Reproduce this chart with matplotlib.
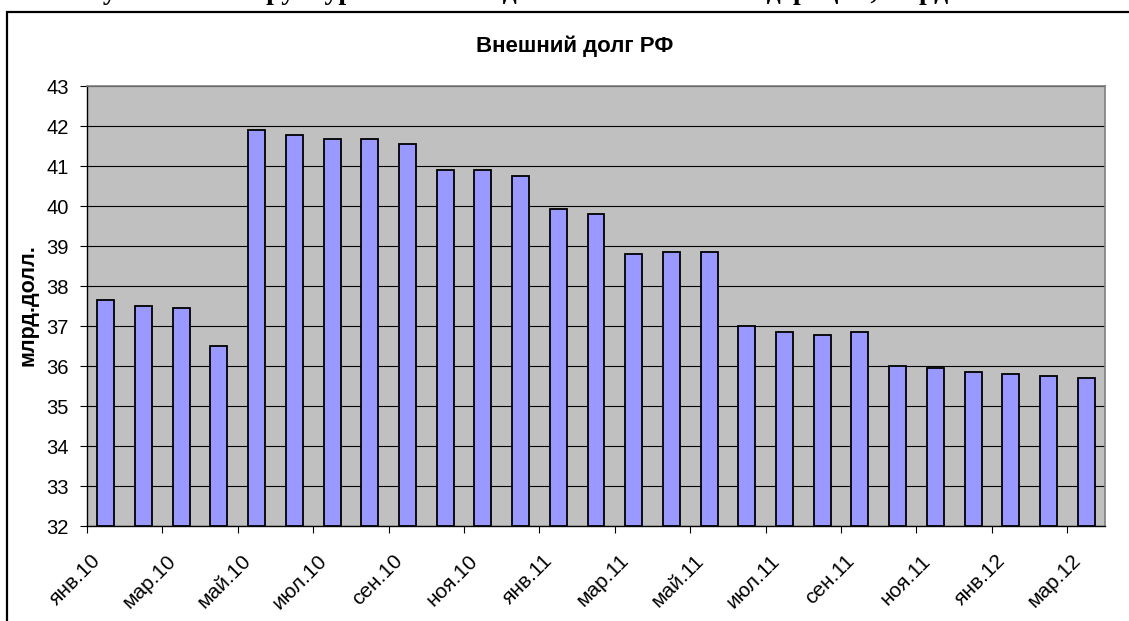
import matplotlib
matplotlib.use("Agg")
import matplotlib.pyplot as plt
import matplotlib.transforms as mtransforms
from matplotlib.patches import Rectangle
import numpy as np

plt.rcParams['font.family'] = ['Liberation Sans', 'DejaVu Sans']

# monthly values, янв.10 .. мар.12
months = ["янв.10", "фев.10", "мар.10", "апр.10", "май.10", "июн.10", "июл.10",
          "авг.10", "сен.10", "окт.10", "ноя.10", "дек.10", "янв.11", "фев.11",
          "мар.11", "апр.11", "май.11", "июн.11", "июл.11", "авг.11", "сен.11",
          "окт.11", "ноя.11", "дек.11", "янв.12", "фев.12", "мар.12"]
debt = [37.64, 37.51, 37.46, 36.49, 41.90, 41.78, 41.68, 41.68, 41.55, 40.90,
        40.90, 40.76, 39.93, 39.80, 38.79, 38.84, 38.84, 36.99, 36.86, 36.77,
        36.86, 35.99, 35.94, 35.84, 35.80, 35.76, 35.71]
y_ticks = list(range(32, 44))

W, H = 1129, 621
fig = plt.figure(figsize=(W / 100, H / 100), dpi=100)
fig.patch.set_facecolor("white")

# plot area in pixels: left 87, right 1105, top 86, bottom 526
ax = fig.add_axes([87 / W, 1 - 526 / H, (1105 - 87) / W, (526 - 86) / H])
ax.set_facecolor("#C0C0C0")

x = np.arange(len(debt))
ax.bar(x, np.array(debt) - 32, bottom=32, width=0.45, color="#9999FF",
       edgecolor="black", linewidth=1.3, zorder=3)

ax.set_xlim(-0.5, len(debt) - 0.5)
ax.set_ylim(32, 43)
ax.set_yticks(y_ticks)
ax.set_yticklabels([str(v) for v in y_ticks], fontsize=14.5)
ax.yaxis.grid(True, color="black", linewidth=0.8, zorder=1)
ax.set_axisbelow(True)

# ticks between every second pair of bars, labels at every second bar
ax.set_xticks(np.arange(-0.5, len(debt) - 0.5, 2))
ax.set_xticklabels([])
ax.set_xticks(x[::2], minor=True)
ax.set_xticklabels(months[::2], minor=True, rotation=45, ha="right",
                   va="top", rotation_mode="anchor", fontsize=15)
ax.tick_params(axis="x", which="minor", length=0, pad=18)
ax.tick_params(axis="x", which="major", length=5, width=0.8, direction="out")
ax.tick_params(axis="y", length=5, width=0.8, direction="out", pad=8)
shift = mtransforms.ScaledTranslation(-15 / 100, 0, fig.dpi_scale_trans)
for lbl in ax.get_xticklabels(minor=True):
    lbl.set_transform(lbl.get_transform() + shift)

for side in ["top", "right"]:
    ax.spines[side].set_color("#808080")
    ax.spines[side].set_linewidth(1.2)
for side in ["left", "bottom"]:
    ax.spines[side].set_color("black")
    ax.spines[side].set_linewidth(1.0)

fig.text(575 / W, 1 - 46 / H, "Внешний долг РФ", ha="center", va="center",
         fontsize=16, fontweight="bold")
fig.text(28 / W, 1 - 305 / H, "млрд.долл.", ha="center", va="center",
         rotation=90, fontsize=15.5, fontweight="bold")

# page caption above the chart, mostly cut off by the image edge
fig.text(58 / W, 1 + 1 / H,
         "Рисунок 2.3 – Структура внешнего долга Российской Федерации, млрд.",
         ha="left", va="baseline", fontsize=20, fontweight="bold",
         family=["Liberation Serif", "DejaVu Serif"])

# chart frame (left and top edges visible)
fig.add_artist(Rectangle((7 / W, -0.1), 2.0, 1 - 12 / H + 0.1,
                         transform=fig.transFigure, fill=False,
                         edgecolor="black", linewidth=1.6))

fig.savefig("out.png", dpi=100)
